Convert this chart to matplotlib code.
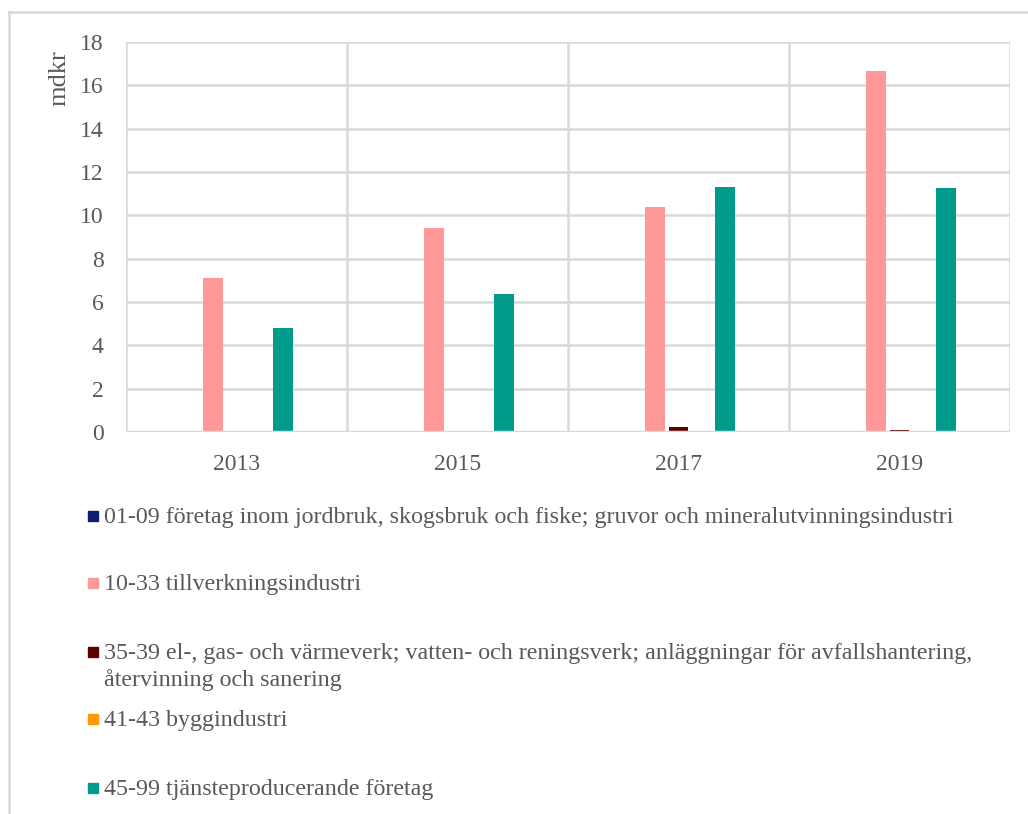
import matplotlib.pyplot as plt
import numpy as np
from matplotlib.lines import Line2D
from matplotlib.patches import Rectangle

years = ['2013', '2015', '2017', '2019']
series_names = [
    '01-09 företag inom jordbruk, skogsbruk och fiske; gruvor och mineralutvinningsindustri',
    '10-33 tillverkningsindustri',
    '35-39 el-, gas- och värmeverk; vatten- och reningsverk; anläggningar för avfallshantering,\nåtervinning och sanering',
    '41-43 byggindustri',
    '45-99 tjänsteproducerande företag',
]
primary = [0.0, 0.0, 0.0, 0.0]
manufacturing = [7.1, 9.4, 10.4, 16.65]
utilities = [0.0, 0.0, 0.22, 0.1]
construction = [0.0, 0.0, 0.0, 0.0]
services = [4.8, 6.35, 11.3, 11.25]
colors = ['#0d1f6e', '#ff9999', '#5c0000', '#ff9900', '#009b8c']

values = [primary, manufacturing, utilities, construction, services]
text_color = '#595959'
grid_color = '#d9d9d9'

plt.rcParams['font.family'] = ['Liberation Serif', 'DejaVu Serif']

fig = plt.figure(figsize=(10.28, 8.14), dpi=100)
W, H = 1028, 814
ax = fig.add_axes([126 / W, 1 - 432 / H, (1010 - 126) / W, (432 - 42) / H])

x = np.arange(len(years))
slot = 0.106
for i, (vals, c) in enumerate(zip(values, colors)):
    ax.bar(x + (i - 2) * slot, vals, width=0.09, color=c, zorder=3)

ax.set_xlim(-0.5, len(years) - 0.5)
ax.set_ylim(0, 18)
ax.set_yticks(range(0, 19, 2))
ax.set_xticks(x)
ax.set_xticklabels(years)
ax.set_xticks(np.arange(-0.5, len(years)), minor=True)
ax.grid(True, axis='y', color=grid_color, linewidth=1.8, zorder=0)
ax.grid(True, axis='x', which='minor', color=grid_color, linewidth=1.8, zorder=0)
ax.tick_params(axis='both', which='both', length=0, labelsize=17, colors=text_color)
ax.tick_params(axis='y', pad=16)
ax.tick_params(axis='x', pad=16)
for s in ax.spines.values():
    s.set_visible(False)
ax.axhline(0, color=grid_color, linewidth=2.5, zorder=4)
ax.set_ylabel('mdkr', fontsize=19, color=text_color)
ax.yaxis.set_label_coords(-0.063, 0.908)

# legend drawn by hand, one entry per row; marker sits on the first line
legend_y = [516, 583, 652, 719, 788]
line_px = 27
for name, c, y in zip(series_names, colors, legend_y):
    fig.patches.append(Rectangle((88 / W, 1 - (y + 5) / H), 10 / W, 10 / H,
                                 transform=fig.transFigure, color=c))
    extra = name.count('\n') * line_px
    fig.text(104 / W, 1 - (y + 7 + extra) / H, name, fontsize=17.3, color=text_color,
             va='baseline', linespacing=1.32)

# outer frame
fig.lines.append(Line2D([9 / W, 1], [1 - 12 / H, 1 - 12 / H], transform=fig.transFigure,
                        color=grid_color, linewidth=1.8))
fig.lines.append(Line2D([9 / W, 9 / W], [0, 1 - 12 / H], transform=fig.transFigure,
                        color=grid_color, linewidth=1.8))

fig.savefig('out.png', dpi=100)
